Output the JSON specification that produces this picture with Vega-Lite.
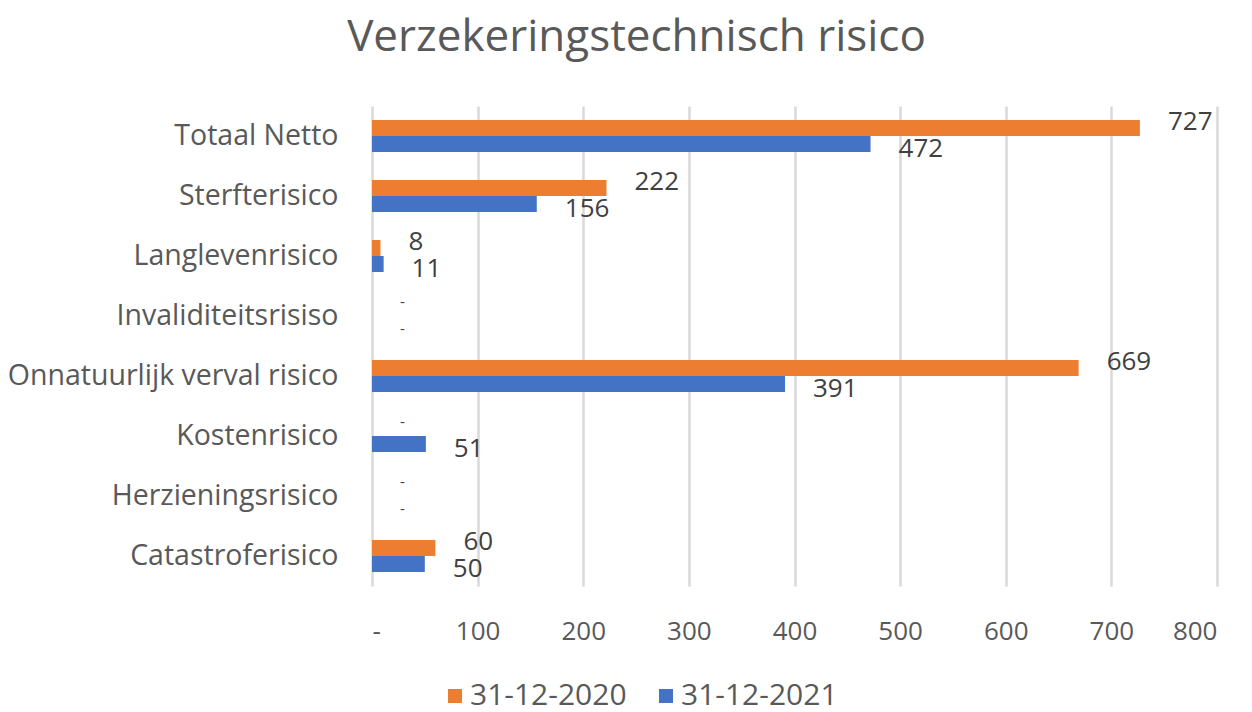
{
  "$schema": "https://vega.github.io/schema/vega-lite/v6.json",
  "width": 845,
  "height": 480,
  "autosize": {"type": "none"},
  "padding": {"left": 372, "top": 106, "right": 35, "bottom": 126},
  "background": "white",
  "title": {
    "text": "Verzekeringstechnisch risico",
    "anchor": "middle",
    "dx": -158,
    "offset": 46,
    "font": "Open Sans",
    "fontSize": 44,
    "fontWeight": "normal",
    "color": "#595959"
  },
  "data": {
    "values": [
      {"categorie": "Totaal Netto", "reeks": "31-12-2020", "waarde": 727},
      {"categorie": "Totaal Netto", "reeks": "31-12-2021", "waarde": 472},
      {"categorie": "Sterfterisico", "reeks": "31-12-2020", "waarde": 222},
      {"categorie": "Sterfterisico", "reeks": "31-12-2021", "waarde": 156},
      {"categorie": "Langlevenrisico", "reeks": "31-12-2020", "waarde": 8},
      {"categorie": "Langlevenrisico", "reeks": "31-12-2021", "waarde": 11},
      {"categorie": "Invaliditeitsrisiso", "reeks": "31-12-2020", "waarde": 0},
      {"categorie": "Invaliditeitsrisiso", "reeks": "31-12-2021", "waarde": 0},
      {"categorie": "Onnatuurlijk verval risico", "reeks": "31-12-2020", "waarde": 669},
      {"categorie": "Onnatuurlijk verval risico", "reeks": "31-12-2021", "waarde": 391},
      {"categorie": "Kostenrisico", "reeks": "31-12-2020", "waarde": 0},
      {"categorie": "Kostenrisico", "reeks": "31-12-2021", "waarde": 51},
      {"categorie": "Herzieningsrisico", "reeks": "31-12-2020", "waarde": 0},
      {"categorie": "Herzieningsrisico", "reeks": "31-12-2021", "waarde": 0},
      {"categorie": "Catastroferisico", "reeks": "31-12-2020", "waarde": 60},
      {"categorie": "Catastroferisico", "reeks": "31-12-2021", "waarde": 50}
    ]
  },
  "encoding": {
    "y": {
      "field": "categorie",
      "type": "nominal",
      "sort": null,
      "scale": {"paddingInner": 0.467, "paddingOuter": 0.233},
      "axis": {
        "title": null,
        "domain": false,
        "ticks": false,
        "grid": false,
        "labelPadding": 34,
        "labelLimit": 400,
        "labelFont": "Open Sans",
        "labelFontSize": 28.5,
        "labelColor": "#595959"
      }
    },
    "yOffset": {
      "field": "reeks",
      "type": "nominal",
      "scale": {"paddingInner": 0, "paddingOuter": 0}
    },
    "x": {
      "field": "waarde",
      "type": "quantitative",
      "scale": {"domain": [0, 800], "nice": false},
      "axis": {
        "title": null,
        "values": [0, 100, 200, 300, 400, 500, 600, 700, 800],
        "labelExpr": "datum.value == 0 ? '-' : datum.label",
        "domain": false,
        "ticks": false,
        "grid": true,
        "gridColor": "#D9D9D9",
        "gridWidth": 2.5,
        "labelPadding": 32,
        "labelFont": "Open Sans",
        "labelFontSize": 26,
        "labelColor": "#595959"
      }
    }
  },
  "layer": [
    {
      "mark": {"type": "bar"},
      "encoding": {
        "color": {
          "field": "reeks",
          "type": "nominal",
          "scale": {"domain": ["31-12-2020", "31-12-2021"], "range": ["#ED7D31", "#4472C4"]},
          "legend": {
            "title": null,
            "orient": "none",
            "direction": "horizontal",
            "legendX": 68,
            "legendY": 575,
            "symbolType": "square",
            "symbolSize": 196,
            "symbolStrokeWidth": 0,
            "labelFont": "Open Sans",
            "labelFontSize": 30,
            "labelColor": "#595959",
            "labelLimit": 300,
            "labelOffset": 0,
            "columnPadding": 24,
            "padding": 0
          }
        }
      }
    },
    {
      "transform": [{"filter": "datum.reeks == '31-12-2020'"}],
      "mark": {
        "type": "text",
        "align": "left",
        "baseline": "middle",
        "dx": 28,
        "dy": -6,
        "font": "Open Sans",
        "color": "#404040"
      },
      "encoding": {
        "text": {
          "condition": {"test": "datum.waarde == 0", "value": "-"},
          "field": "waarde",
          "type": "quantitative",
          "format": "d"
        },
        "size": {"condition": {"test": "datum.waarde == 0", "value": 15}, "value": 26}
      }
    },
    {
      "transform": [{"filter": "datum.reeks == '31-12-2021'"}],
      "mark": {
        "type": "text",
        "align": "left",
        "baseline": "middle",
        "dx": 28,
        "dy": 5,
        "font": "Open Sans",
        "color": "#404040"
      },
      "encoding": {
        "text": {
          "condition": {"test": "datum.waarde == 0", "value": "-"},
          "field": "waarde",
          "type": "quantitative",
          "format": "d"
        },
        "size": {"condition": {"test": "datum.waarde == 0", "value": 15}, "value": 26}
      }
    }
  ],
  "config": {
    "view": {"stroke": null},
    "axis": {"labelOverlap": false}
  }
}
